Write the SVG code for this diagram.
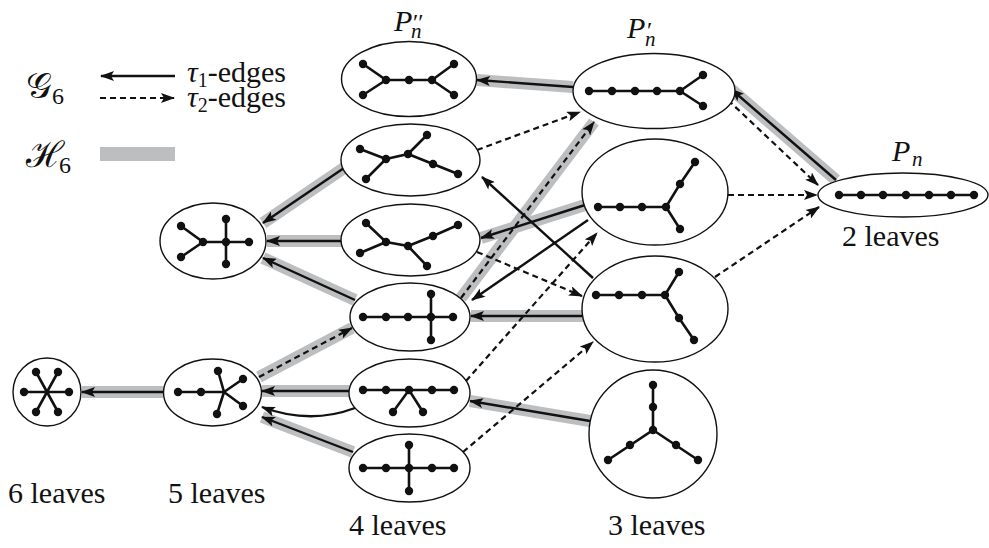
<svg xmlns="http://www.w3.org/2000/svg" width="989" height="548" viewBox="0 0 989 548">
<style>
.bg{fill:#fff}
.nd{fill:#fff;stroke:#111;stroke-width:1.4}
.te{stroke:#111;stroke-width:2.6;stroke-linecap:round;fill:none}
.dot{fill:#111}
.band{stroke:#bdbec0;stroke-width:12;fill:none}
.sol{stroke:#111;stroke-width:2.4;fill:none;marker-end:url(#ah)}
.dsh{stroke:#111;stroke-width:2.2;fill:none;stroke-dasharray:6 4;marker-end:url(#ah)}
.lbl{fill:#111}
.it{font-style:italic}
</style>
<defs>
<marker id="ah" viewBox="0 0 14 10" refX="13" refY="5" markerWidth="15" markerHeight="10" markerUnits="userSpaceOnUse" orient="auto">
<path d="M0,0 L14,5 L0,10 L3,5 z" fill="#111"/>
</marker>
</defs>
<rect class="bg" x="0" y="0" width="989" height="548"/>

<g id="legend">
<text class="lbl" font-family="'DejaVu Serif', serif" x="26" y="98" font-size="36">𝒢<tspan font-family="'Liberation Serif', serif" font-size="24" dy="6">6</tspan></text>
<text class="lbl" font-family="'DejaVu Serif', serif" x="26" y="167" font-size="36">ℋ<tspan font-family="'Liberation Serif', serif" font-size="24" dx="-5" dy="6">6</tspan></text>
<line x1="175" y1="76" x2="101" y2="76" class="sol"/>
<line x1="100" y1="98" x2="174" y2="98" class="dsh"/>
<rect x="100" y="147" width="75" height="14" fill="#bdbec0"/>
<text class="lbl" font-family="'Liberation Serif', 'DejaVu Serif', serif" x="187" y="82" font-size="30"><tspan class="it">τ</tspan><tspan font-size="20" dy="5">1</tspan><tspan dy="-5">-edges</tspan></text>
<text class="lbl" font-family="'Liberation Serif', 'DejaVu Serif', serif" x="187" y="107" font-size="30"><tspan class="it">τ</tspan><tspan font-size="20" dy="5">2</tspan><tspan dy="-5">-edges</tspan></text>
</g>

<g id="connectors">
<path class="band" d="M573,87 L477,80"/>
<path class="band" d="M836,180 L731,89"/>
<path class="band" d="M461,298 L594,122"/>
<path class="band" d="M344,168 L263,223"/>
<path class="band" d="M342,241 L267,241"/>
<path class="band" d="M355,300 L263,258"/>
<path class="band" d="M585,205 L481,238"/>
<path class="band" d="M583,316 L471,316"/>
<path class="band" d="M163,392 L82,392"/>
<path class="band" d="M259,377 L352,328"/>
<path class="band" d="M349,391 L262,391"/>
<path class="band" d="M353,452 L262,417"/>
<path class="band" d="M590,421 L470,401"/>

<path class="sol" d="M573,87 L477,80"/>
<path class="sol" d="M836,180 L731,89"/>
<path class="dsh" d="M728,100 L818,185"/>
<path class="dsh" d="M728,195 L817,195"/>
<path class="dsh" d="M715,277 L819,207"/>
<path class="dsh" d="M477,150 L580,112"/>
<path class="dsh" d="M461,298 L594,122"/>
<path class="sol" d="M344,168 L263,223"/>
<path class="sol" d="M342,241 L267,241"/>
<path class="sol" d="M355,300 L263,258"/>
<path class="sol" d="M585,205 L481,238"/>
<path class="sol" d="M593,278 L482,177"/>
<path class="sol" d="M588,220 L472,300"/>
<path class="sol" d="M583,316 L471,316"/>
<path class="dsh" d="M477,252 L582,296"/>
<path class="dsh" d="M466,381 L597,233"/>
<path class="dsh" d="M463,452 L593,342"/>
<path class="sol" d="M163,392 L82,392"/>
<path class="dsh" d="M259,377 L352,328"/>
<path class="sol" d="M349,391 L262,391"/>
<path class="sol" d="M355,408 Q310,425 262,407"/>
<path class="sol" d="M353,452 L262,417"/>
<path class="sol" d="M590,421 L470,401"/>
</g>

<g id="node-Pn2">
<ellipse class="nd" cx="409" cy="79" rx="67.5" ry="37.5"/>
<path class="te" d="M363,64 L386,80 L363,95 M386,80 L432,80 L454,64 M432,80 L454,95"/>
<circle class="dot" cx="363" cy="64" r="4.2"/><circle class="dot" cx="363" cy="95" r="4.2"/><circle class="dot" cx="386" cy="80" r="4.2"/><circle class="dot" cx="409" cy="80" r="4.2"/><circle class="dot" cx="432" cy="80" r="4.2"/><circle class="dot" cx="454" cy="64" r="4.2"/><circle class="dot" cx="454" cy="95" r="4.2"/>
<text class="lbl it" font-family="'Liberation Serif', 'DejaVu Serif', serif" x="394" y="31" font-size="30">P</text>
<text class="lbl" font-family="'Liberation Serif', 'DejaVu Serif', serif" x="413" y="30" font-size="24">′′</text>
<text class="lbl it" font-family="'Liberation Serif', 'DejaVu Serif', serif" x="411" y="38" font-size="21">n</text>
</g>

<g id="node-Pn1">
<ellipse class="nd" cx="654" cy="91" rx="81" ry="37.5"/>
<path class="te" d="M589,91 L680,91 L703,75 M680,91 L703,106"/>
<circle class="dot" cx="589" cy="91" r="4.2"/><circle class="dot" cx="612" cy="91" r="4.2"/><circle class="dot" cx="635" cy="91" r="4.2"/><circle class="dot" cx="657" cy="91" r="4.2"/><circle class="dot" cx="680" cy="91" r="4.2"/><circle class="dot" cx="703" cy="75" r="4.2"/><circle class="dot" cx="703" cy="106" r="4.2"/>
<text class="lbl it" font-family="'Liberation Serif', 'DejaVu Serif', serif" x="627" y="38" font-size="30">P</text>
<text class="lbl" font-family="'Liberation Serif', 'DejaVu Serif', serif" x="647" y="38" font-size="24">′</text>
<text class="lbl it" font-family="'Liberation Serif', 'DejaVu Serif', serif" x="645" y="46" font-size="21">n</text>
</g>

<g id="node-Pn">
<ellipse class="nd" cx="903" cy="195" rx="85" ry="22"/>
<path class="te" d="M839,195 L974,195"/>
<circle class="dot" cx="839" cy="195" r="4.2"/><circle class="dot" cx="861" cy="195" r="4.2"/><circle class="dot" cx="883" cy="195" r="4.2"/><circle class="dot" cx="906" cy="195" r="4.2"/><circle class="dot" cx="929" cy="195" r="4.2"/><circle class="dot" cx="951" cy="195" r="4.2"/><circle class="dot" cx="974" cy="195" r="4.2"/>
<text class="lbl it" font-family="'Liberation Serif', 'DejaVu Serif', serif" x="892" y="161" font-size="30">P</text>
<text class="lbl it" font-family="'Liberation Serif', 'DejaVu Serif', serif" x="912" y="166" font-size="21">n</text>
<text class="lbl" font-family="'Liberation Serif', 'DejaVu Serif', serif" x="842" y="246" font-size="30">2 leaves</text>
</g>

<g id="node-A">
<ellipse class="nd" cx="410.5" cy="160" rx="69.5" ry="36"/>
<path class="te" d="M360,149 L386,159 L366,179 M386,159 L408,154 L427,135 M408,154 L433,164 L458,174"/>
<circle class="dot" cx="360" cy="149" r="4.2"/><circle class="dot" cx="366" cy="179" r="4.2"/><circle class="dot" cx="386" cy="159" r="4.2"/><circle class="dot" cx="408" cy="154" r="4.2"/><circle class="dot" cx="427" cy="135" r="4.2"/><circle class="dot" cx="433" cy="164" r="4.2"/><circle class="dot" cx="458" cy="174" r="4.2"/>
</g>

<g id="node-B">
<ellipse class="nd" cx="410.5" cy="240" rx="69.5" ry="36"/>
<path class="te" d="M366,223 L386,242 L360,253 M386,242 L408,246 L427,266 M408,246 L433,236 L458,225"/>
<circle class="dot" cx="366" cy="223" r="4.2"/><circle class="dot" cx="360" cy="253" r="4.2"/><circle class="dot" cx="386" cy="242" r="4.2"/><circle class="dot" cx="408" cy="246" r="4.2"/><circle class="dot" cx="427" cy="266" r="4.2"/><circle class="dot" cx="433" cy="236" r="4.2"/><circle class="dot" cx="458" cy="225" r="4.2"/>
</g>

<g id="node-C">
<ellipse class="nd" cx="213" cy="241" rx="53" ry="38"/>
<path class="te" d="M181,226 L203,242 L181,257 M203,242 L249,242 M226,219 L226,264"/>
<circle class="dot" cx="181" cy="226" r="4.2"/><circle class="dot" cx="181" cy="257" r="4.2"/><circle class="dot" cx="203" cy="242" r="4.2"/><circle class="dot" cx="226" cy="219" r="4.2"/><circle class="dot" cx="226" cy="242" r="4.2"/><circle class="dot" cx="249" cy="242" r="4.2"/><circle class="dot" cx="226" cy="264" r="4.2"/>
</g>

<g id="node-D">
<ellipse class="nd" cx="410" cy="317" rx="60" ry="34"/>
<path class="te" d="M363,317 L453,317 M431,294 L431,340"/>
<circle class="dot" cx="363" cy="317" r="4.2"/><circle class="dot" cx="386" cy="317" r="4.2"/><circle class="dot" cx="408" cy="317" r="4.2"/><circle class="dot" cx="431" cy="317" r="4.2"/><circle class="dot" cx="453" cy="317" r="4.2"/><circle class="dot" cx="431" cy="294" r="4.2"/><circle class="dot" cx="431" cy="340" r="4.2"/>
</g>

<g id="node-E">
<circle class="nd" cx="47" cy="392" r="34"/>
<path class="te" d="M24,392 L69,392 M36,372 L58,412 M58,372 L36,412"/>
<circle class="dot" cx="24" cy="392" r="4.2"/><circle class="dot" cx="69" cy="392" r="4.2"/><circle class="dot" cx="36" cy="372" r="4.2"/><circle class="dot" cx="58" cy="372" r="4.2"/><circle class="dot" cx="36" cy="412" r="4.2"/><circle class="dot" cx="58" cy="412" r="4.2"/>
<text class="lbl" font-family="'Liberation Serif', 'DejaVu Serif', serif" x="8" y="503" font-size="30">6 leaves</text>
</g>

<g id="node-F">
<ellipse class="nd" cx="212.5" cy="392.5" rx="49" ry="33.5"/>
<path class="te" d="M178,392 L224,392 L218,371 M224,392 L243,379 M224,392 L243,406 M224,392 L217,414"/>
<circle class="dot" cx="178" cy="392" r="4.2"/><circle class="dot" cx="201" cy="392" r="4.2"/><circle class="dot" cx="218" cy="371" r="4.2"/><circle class="dot" cx="243" cy="379" r="4.2"/><circle class="dot" cx="243" cy="406" r="4.2"/><circle class="dot" cx="217" cy="414" r="4.2"/>
<text class="lbl" font-family="'Liberation Serif', 'DejaVu Serif', serif" x="168" y="503" font-size="30">5 leaves</text>
</g>

<g id="node-G">
<ellipse class="nd" cx="409.5" cy="393" rx="60.5" ry="34"/>
<path class="te" d="M363,390 L454,390 M393,412 L409,390 L423,412"/>
<circle class="dot" cx="363" cy="390" r="4.2"/><circle class="dot" cx="386" cy="390" r="4.2"/><circle class="dot" cx="409" cy="390" r="4.2"/><circle class="dot" cx="432" cy="390" r="4.2"/><circle class="dot" cx="454" cy="390" r="4.2"/><circle class="dot" cx="393" cy="412" r="4.2"/><circle class="dot" cx="423" cy="412" r="4.2"/>
</g>

<g id="node-H">
<ellipse class="nd" cx="409.5" cy="468" rx="60.5" ry="34"/>
<path class="te" d="M363,468 L454,468 M409,445 L409,491"/>
<circle class="dot" cx="363" cy="468" r="4.2"/><circle class="dot" cx="386" cy="468" r="4.2"/><circle class="dot" cx="409" cy="468" r="4.2"/><circle class="dot" cx="432" cy="468" r="4.2"/><circle class="dot" cx="454" cy="468" r="4.2"/><circle class="dot" cx="409" cy="445" r="4.2"/><circle class="dot" cx="409" cy="491" r="4.2"/>
<text class="lbl" font-family="'Liberation Serif', 'DejaVu Serif', serif" x="349" y="535" font-size="30">4 leaves</text>
</g>

<g id="node-I">
<ellipse class="nd" cx="655" cy="192" rx="73" ry="53"/>
<path class="te" d="M598,207 L666,207 L680,184 L695,162 M666,207 L680,229"/>
<circle class="dot" cx="598" cy="207" r="4.2"/><circle class="dot" cx="620" cy="207" r="4.2"/><circle class="dot" cx="642" cy="207" r="4.2"/><circle class="dot" cx="666" cy="207" r="4.2"/><circle class="dot" cx="680" cy="184" r="4.2"/><circle class="dot" cx="695" cy="162" r="4.2"/><circle class="dot" cx="680" cy="229" r="4.2"/>
</g>

<g id="node-J">
<ellipse class="nd" cx="655" cy="309" rx="73" ry="53"/>
<path class="te" d="M596,295 L665,295 L679,272 M665,295 L679,318 L694,340"/>
<circle class="dot" cx="596" cy="295" r="4.2"/><circle class="dot" cx="619" cy="295" r="4.2"/><circle class="dot" cx="642" cy="295" r="4.2"/><circle class="dot" cx="665" cy="295" r="4.2"/><circle class="dot" cx="679" cy="272" r="4.2"/><circle class="dot" cx="679" cy="318" r="4.2"/><circle class="dot" cx="694" cy="340" r="4.2"/>
</g>

<g id="node-K">
<circle class="nd" cx="653" cy="434" r="64"/>
<path class="te" d="M653,385 L653,430 L608,460 M653,430 L698,460"/>
<circle class="dot" cx="653" cy="385" r="4.2"/><circle class="dot" cx="653" cy="407" r="4.2"/><circle class="dot" cx="653" cy="430" r="4.2"/><circle class="dot" cx="630" cy="445" r="4.2"/><circle class="dot" cx="608" cy="460" r="4.2"/><circle class="dot" cx="676" cy="445" r="4.2"/><circle class="dot" cx="698" cy="460" r="4.2"/>
<text class="lbl" font-family="'Liberation Serif', 'DejaVu Serif', serif" x="608" y="535" font-size="30">3 leaves</text>
</g>
</svg>
